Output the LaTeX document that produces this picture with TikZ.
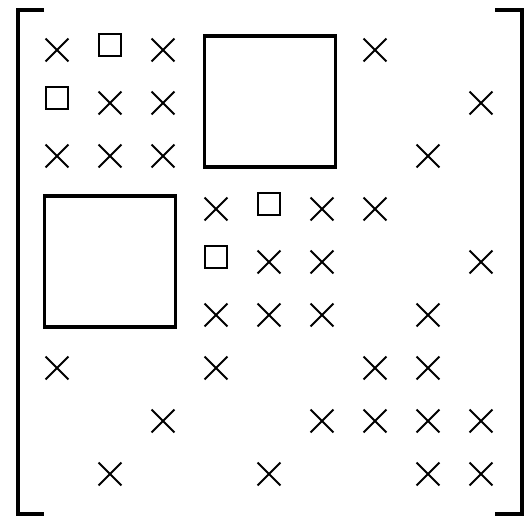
\documentclass[tikz,border=0pt]{standalone}
\usetikzlibrary{shapes.misc}
\begin{document}
\begin{tikzpicture}[x=1pt,y=-1pt,
  entry/.style={cross out,draw,inner sep=0pt,minimum size=21pt,line width=1.8pt},
  smallsq/.style={rectangle,draw,inner sep=0pt,minimum size=22.5pt,line width=1.9pt},
  bigblock/.style={rectangle,draw,inner sep=0pt,minimum size=131pt,line width=3.3pt},
  brack/.style={line width=3.3pt}]
\useasboundingbox (0,0) rectangle (529,516);
% brackets
\coordinate (lt) at (44,10); \coordinate (ltc) at (18,10);
\coordinate (lbc) at (18,514); \coordinate (lb) at (44,514);
\coordinate (rt) at (495,10); \coordinate (rtc) at (522,10);
\coordinate (rbc) at (522,514); \coordinate (rb) at (495,514);
\draw[brack] (lt) -- (ltc) -- (lbc) -- (lb);
\draw[brack] (rt) -- (rtc) -- (rbc) -- (rb);
% crosses
\foreach \c/\r in {1/1,3/1,7/1,
                   2/2,3/2,9/2,
                   1/3,2/3,3/3,8/3,
                   4/4,6/4,7/4,
                   5/5,6/5,9/5,
                   4/6,5/6,6/6,8/6,
                   1/7,4/7,7/7,8/7,
                   3/8,6/8,7/8,8/8,9/8,
                   2/9,5/9,8/9,9/9}
  \node[entry] (x\c-\r) at ({57+53*(\c-1)},{50+53*(\r-1)}) {};
% small squares
\foreach \c/\r in {2/1,1/2,5/4,4/5}
  \node[smallsq] (s\c-\r) at ({57+53*(\c-1)},{45+53*(\r-1)}) {};
% big blocks
\node[bigblock] (b1) at (270,101.5) {};
\node[bigblock] (b2) at (110,261.5) {};
\end{tikzpicture}
\end{document}
